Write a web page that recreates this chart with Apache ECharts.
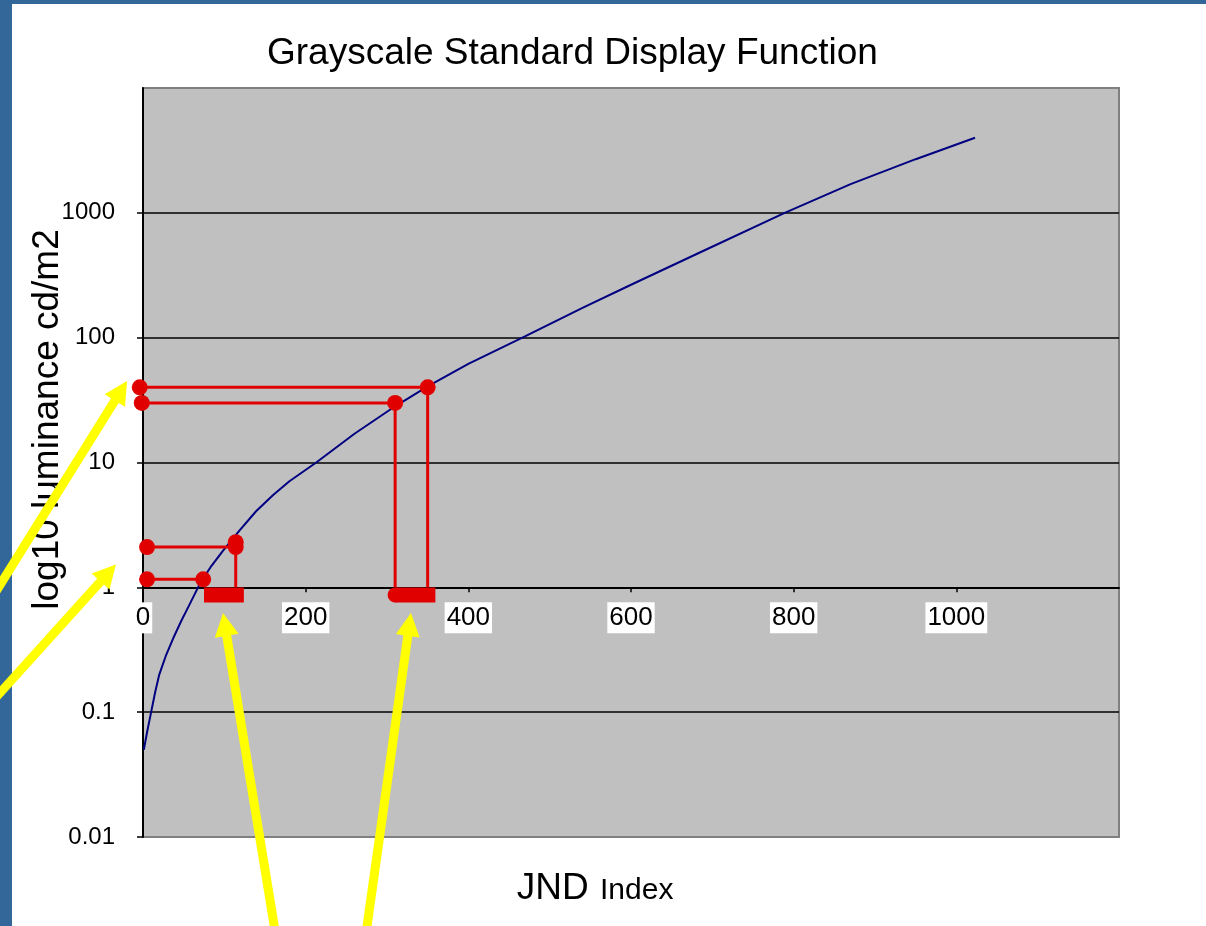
<!DOCTYPE html>
<html><head><meta charset="utf-8">
<script src="https://cdn.jsdelivr.net/npm/echarts@6/dist/echarts.min.js"></script>
<style>html,body{margin:0;padding:0;background:#fff}#c{width:1206px;height:926px}</style>
</head><body><div id="c"></div>
<script>
// ---- data ----
const jndIndex  = [1, 5, 10, 15, 20, 28, 37, 47, 57, 70, 84, 98, 118, 139, 160, 180, 213, 260, 310, 350, 400, 469, 541, 602, 684, 789, 870, 950, 1023];
const luminance = [0.050, 0.069, 0.100, 0.145, 0.200, 0.282, 0.389, 0.537, 0.724, 1.07, 1.48, 1.95, 2.82, 4.07, 5.50, 7.08, 10.0, 17.0, 28.2, 40.7, 61.7, 102, 174, 269, 479, 1000, 1700, 2690, 3993];
const xTickLabels = ['0', '200', '400', '600', '800', '1000'];
const yTickLabels = ['0.01', '0.1', '1', '10', '100', '1000'];
// red annotations (JND, luminance)
const range40 = [[-4, 40], [350, 40], [350, 1]];
const range30 = [[-1.5, 30], [310, 30], [310, 1]];
const range22 = [[5, 2.1], [114, 2.1], [114, 1]];
const range12 = [[5, 1.16], [74, 1.16]];
const extraDot = [[114, 2.3]];
const barLow  = [[75, 0.87], [124, 0.87]];
const barHigh = [[310, 0.87], [359.5, 0.87]];

// ---- layout ----
const FONT = '"Liberation Sans", Arial, sans-serif';
const RED = '#E10000';
const GRID = {left: 143, top: 88, right: 87, bottom: 89};
const plotBottomY = 926 - GRID.bottom;
const y1 = GRID.top + (plotBottomY - GRID.top) * 4 / 6;  // where luminance 1 sits
const curve = jndIndex.map((j, i) => [j, luminance[i]]);

function redPath(points, dotCount, extra) {
  return Object.assign({
    type: 'line', clip: false, z: 5, silent: true,
    lineStyle: {color: RED, width: 3},
    itemStyle: {color: RED},
    symbol: 'circle', symbolSize: 16, showSymbol: true,
    data: points.map((p, i) => i < dotCount ? {value: p} : {value: p, symbol: 'none'})
  }, extra || {});
}

// yellow arrows: [tail, tip] in pixels (decoration)
const arrowDefs = [
  [[-20, 617], [127, 381]],
  [[-20, 715], [116, 564.5]],
  [[279, 955], [223, 613]],
  [[363, 955], [411, 613]]
];
function arrowPoly(t, p) {
  const w = 9, hl = 23, hw = 24;
  const dx = p[0] - t[0], dy = p[1] - t[1], L = Math.hypot(dx, dy);
  const ux = dx / L, uy = dy / L, nx = -uy, ny = ux;
  const bx = p[0] - ux * hl, by = p[1] - uy * hl;
  return [
    [t[0] + nx * w / 2, t[1] + ny * w / 2],
    [bx + nx * w / 2, by + ny * w / 2],
    [bx + nx * hw / 2, by + ny * hw / 2],
    p,
    [bx - nx * hw / 2, by - ny * hw / 2],
    [bx - nx * w / 2, by - ny * w / 2],
    [t[0] - nx * w / 2, t[1] - ny * w / 2]
  ];
}

const chart = echarts.init(document.getElementById('c'), null, {renderer: 'canvas'});
chart.setOption({
  animation: false,
  backgroundColor: '#ffffff',
  textStyle: {fontFamily: FONT},
  title: {
    text: 'Grayscale Standard Display Function',
    left: 267, top: 35, padding: 0,
    textStyle: {fontSize: 37, fontWeight: 'normal', color: '#000', fontFamily: FONT}
  },
  grid: Object.assign({
    show: true, backgroundColor: '#C0C0C0', borderColor: '#808080', borderWidth: 2,
    containLabel: false, outerBoundsMode: 'none'
  }, GRID),
  xAxis: {
    type: 'value', min: 0, max: 1200, interval: 200,
    position: 'bottom',
    offset: -(plotBottomY - y1),
    axisLine: {show: true, onZero: false, lineStyle: {color: '#000', width: 2}},
    axisTick: {show: true, length: 5, lineStyle: {color: '#000', width: 1.5}},
    splitLine: {show: false},
    axisLabel: {
      show: true, showMaxLabel: false, margin: 15,
      fontSize: 26, lineHeight: 27, color: '#000', fontFamily: FONT,
      backgroundColor: '#ffffff', padding: [2, 2, 2, 2],
      formatter: v => xTickLabels[Math.round(v / 200)] || ''
    }
  },
  yAxis: {
    type: 'log', logBase: 10, min: 0.01, max: 10000, splitNumber: 6,
    name: 'log10 luminance cd/m2',
    nameLocation: 'middle', nameRotate: 90, nameGap: 77, nameMoveOverlap: false,
    nameTextStyle: {fontSize: 37, color: '#000', fontFamily: FONT, padding: [0, 0, 0, 86]},
    axisLine: {show: true, lineStyle: {color: '#000', width: 2}},
    axisTick: {show: true, length: 6, lineStyle: {color: '#000', width: 1.5}},
    splitLine: {show: true, showMinLine: false, showMaxLine: false, lineStyle: {color: '#000', width: 1.5}},
    axisLabel: {
      show: true, showMaxLabel: false, margin: 28,
      fontSize: 24, color: '#000', fontFamily: FONT,
      formatter: v => yTickLabels[Math.round(Math.log10(v)) + 2] || ''
    }
  },
  series: [
    {
      type: 'line', name: 'GSDF', data: curve, z: 3, silent: true,
      showSymbol: false, symbol: 'none', smooth: false,
      lineStyle: {color: '#000080', width: 2}
    },
    redPath(range40, 2),
    redPath(range30, 2),
    redPath(range22, 2),
    redPath(range12, 2),
    redPath(extraDot, 1),
    redPath(barLow, 0, {lineStyle: {color: RED, width: 15, cap: 'butt'}}),
    {
      type: 'line', clip: false, z: 5, silent: true,
      lineStyle: {color: RED, width: 15, cap: 'butt'}, itemStyle: {color: RED},
      symbol: 'circle', symbolSize: 15,
      data: [{value: barHigh[0]}, {value: barHigh[1], symbol: 'none'}]
    }
  ],
  graphic: [
    {type: 'rect', shape: {x: 0, y: 0, width: 12, height: 926}, style: {fill: '#336699'}, z: 50, silent: true},
    {type: 'rect', shape: {x: 0, y: 0, width: 1206, height: 4}, style: {fill: '#336699'}, z: 50, silent: true},
    {type: 'text', x: 516.7, y: 888.7, z: 60,
      style: {text: 'JND', fontSize: 37, fontFamily: FONT, fill: '#000', textAlign: 'left', textVerticalAlign: 'middle'}},
    {type: 'text', x: 600, y: 891.1, z: 60,
      style: {text: 'Index', fontSize: 30, fontFamily: FONT, fill: '#000', textAlign: 'left', textVerticalAlign: 'middle'}}
  ].concat(arrowDefs.map(a => ({
    type: 'polygon', z: 100, silent: true,
    shape: {points: arrowPoly(a[0], a[1])},
    style: {fill: '#FFFF00'}
  })))
});
</script>
</body></html>
